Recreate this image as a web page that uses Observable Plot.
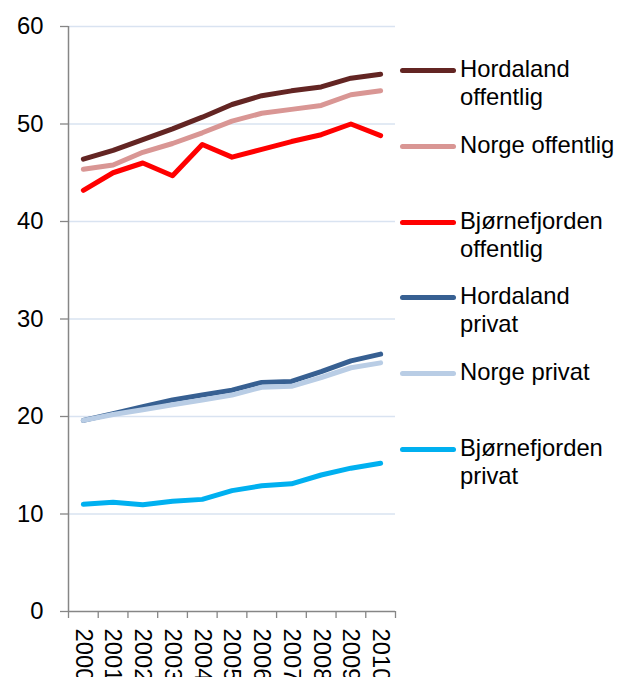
<!DOCTYPE html>
<html>
<head>
<meta charset="utf-8">
<script src="https://cdn.jsdelivr.net/npm/d3@7"></script>
<script src="https://cdn.jsdelivr.net/npm/@observablehq/plot@0.6"></script>
<style>
  html, body { margin: 0; padding: 0; background: #fff; }
  #wrap { position: relative; width: 617px; height: 677px; overflow: hidden; font-family: "Liberation Sans", Arial, sans-serif; }
  #legend { position: absolute; left: 0; top: 0; width: 617px; }
  .item { position: absolute; left: 400px; display: flex; align-items: flex-start; white-space: nowrap; }
  .sw { width: 56px; height: 5px; border-radius: 3px; margin-top: 11px; margin-right: 4px; flex: none; }
  .lab { font-size: 23.8px; line-height: 27.5px; color: #000; margin-top: -2px; white-space: nowrap; }
</style>
</head>
<body>
<div id="wrap"><div id="legend"></div></div>
<script>
const years = [2000, 2001, 2002, 2003, 2004, 2005, 2006, 2007, 2008, 2009, 2010];
const yTicks = [0, 10, 20, 30, 40, 50, 60];

const seriesNames = [
  "Hordaland offentlig",
  "Norge offentlig",
  "Bjørnefjorden offentlig",
  "Hordaland privat",
  "Norge privat",
  "Bjørnefjorden privat"
];
const legendLines = [
  ["Hordaland", "offentlig"],
  ["Norge offentlig"],
  ["Bjørnefjorden", "offentlig"],
  ["Hordaland", "privat"],
  ["Norge privat"],
  ["Bjørnefjorden", "privat"]
];
const seriesColors = ["#632523", "#d99694", "#ff0000", "#376092", "#b9cde5", "#00b0f0"];

const hordalandOffentlig    = [46.4, 47.3, 48.4, 49.5, 50.7, 52.0, 52.9, 53.4, 53.8, 54.7, 55.1];
const norgeOffentlig        = [45.35, 45.8, 47.1, 48.0, 49.1, 50.3, 51.1, 51.5, 51.9, 53.0, 53.4];
const bjornefjordOffentlig  = [43.2, 45.0, 46.0, 44.7, 47.9, 46.6, 47.4, 48.2, 48.9, 50.0, 48.8];
const hordalandPrivat       = [19.6, 20.3, 21.0, 21.7, 22.2, 22.7, 23.5, 23.6, 24.6, 25.7, 26.4];
const norgePrivat           = [19.6, 20.2, 20.7, 21.2, 21.7, 22.2, 23.0, 23.1, 24.0, 25.0, 25.5];
const bjornefjordPrivat     = [11.0, 11.2, 10.95, 11.3, 11.5, 12.4, 12.9, 13.1, 14.0, 14.7, 15.2];

const seriesValues = [hordalandOffentlig, norgeOffentlig, bjornefjordOffentlig, hordalandPrivat, norgePrivat, bjornefjordPrivat];

const data = seriesNames.flatMap((name, s) =>
  years.map((year, i) => ({ name, year, value: seriesValues[s][i] }))
);
const boundaries = [...years.map(y => y - 0.5), years[years.length - 1] + 0.5];

const axisColor = "#868686";
const gridColor = "#d9e3f1";
const font = "Liberation Sans, Arial, sans-serif";

const chart = Plot.plot({
  width: 617,
  height: 677,
  marginTop: 26,
  marginBottom: 66,
  marginLeft: 68,
  marginRight: 222,
  style: { fontFamily: font, background: "#fff", color: "#000" },
  x: { domain: [boundaries[0], boundaries[boundaries.length - 1]] },
  y: { domain: [0, 60] },
  color: { domain: seriesNames, range: seriesColors },
  marks: [
    Plot.ruleY(yTicks.filter(v => v > 0), { stroke: gridColor, strokeWidth: 1.3 }),
    Plot.axisY(yTicks, {
      tickSize: 8, tickPadding: 17, fontSize: 23.8, label: null,
      stroke: axisColor, strokeWidth: 1.3, fill: "#000"
    }),
    Plot.axisX(boundaries, {
      tickSize: 7, tickFormat: () => "", label: null, stroke: axisColor, strokeWidth: 1.3
    }),
    Plot.axisX(years, {
      tickSize: 0, tickPadding: 17, tickRotate: 90, fontSize: 23.8, label: null,
      tickFormat: d => String(d), fill: "#000"
    }),
    Plot.ruleX([boundaries[0]], { stroke: axisColor, strokeWidth: 1.5 }),
    Plot.ruleY([0], { stroke: axisColor, strokeWidth: 1.5 }),
    Plot.lineY(data, {
      x: "year", y: "value", z: "name", stroke: "name",
      strokeWidth: 5, strokeLinecap: "round", strokeLinejoin: "round"
    })
  ]
});

const wrap = document.getElementById("wrap");
wrap.insertBefore(chart, wrap.firstChild);

// Legend (HTML, beside the plot)
const legendTops = [57, 133, 209, 284, 360, 436];
const legend = document.getElementById("legend");
seriesNames.forEach((name, i) => {
  const item = document.createElement("div");
  item.className = "item";
  item.style.top = legendTops[i] + "px";
  const sw = document.createElement("div");
  sw.className = "sw";
  sw.style.background = seriesColors[i];
  const lab = document.createElement("div");
  lab.className = "lab";
  lab.innerHTML = legendLines[i].join("<br>");
  item.appendChild(sw);
  item.appendChild(lab);
  legend.appendChild(item);
});
</script>
</body>
</html>
